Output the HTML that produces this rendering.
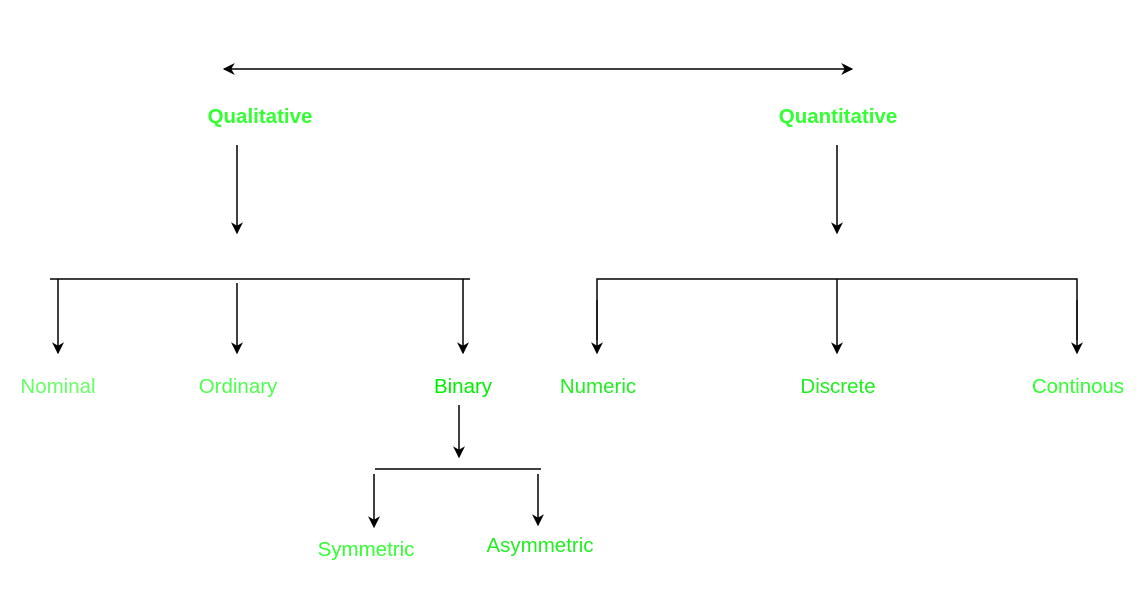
<!DOCTYPE html>
<html><head><style>
html,body{margin:0;padding:0;background:#fff;width:1144px;height:592px;overflow:hidden}
text{font-family:"Liberation Sans",Arial,sans-serif;font-size:20.5px;text-anchor:middle}
</style></head><body>
<svg width="1144" height="592" xmlns="http://www.w3.org/2000/svg">
<defs>
<marker id="a" viewBox="0 0 10 10" refX="9" refY="5" markerWidth="14" markerHeight="12" markerUnits="userSpaceOnUse" orient="auto-start-reverse">
<path d="M0,0 L10,5 L0,10 L3,5 Z" fill="#000"/></marker>
</defs>
<g stroke="#000" stroke-width="1.5" fill="none">
<line x1="224" y1="69" x2="852" y2="69" marker-start="url(#a)" marker-end="url(#a)"/>
<line x1="237" y1="145" x2="237" y2="233" marker-end="url(#a)"/>
<line x1="837" y1="145" x2="837" y2="233" marker-end="url(#a)"/>
<line x1="50" y1="279" x2="470" y2="279"/>
<line x1="58" y1="279" x2="58" y2="353" marker-end="url(#a)"/>
<line x1="237" y1="283" x2="237" y2="353" marker-end="url(#a)"/>
<line x1="463" y1="279" x2="463" y2="353" marker-end="url(#a)"/>
<polyline points="597,340 597,279 1077,279 1077,340"/>
<line x1="597" y1="300" x2="597" y2="353" marker-end="url(#a)"/>
<line x1="1077" y1="300" x2="1077" y2="353" marker-end="url(#a)"/>
<line x1="837" y1="279" x2="837" y2="353" marker-end="url(#a)"/>
<line x1="459" y1="405" x2="459" y2="457" marker-end="url(#a)"/>
<line x1="375" y1="469" x2="541" y2="469"/>
<line x1="374" y1="474" x2="374" y2="527" marker-end="url(#a)"/>
<line x1="538" y1="474" x2="538" y2="525" marker-end="url(#a)"/>
</g>
<text x="260" y="123" fill="#33ff33" style="font-weight:bold;font-size:20.5px">Qualitative</text>
<text x="838" y="123" fill="#33ff33" style="font-weight:bold;font-size:20.5px">Quantitative</text>
<text x="58" y="393" fill="#66ff66">Nominal</text>
<text x="238" y="393" fill="#4dff4d">Ordinary</text>
<text x="463" y="393" fill="#00ee00">Binary</text>
<text x="598" y="393" fill="#22ee22">Numeric</text>
<text x="838" y="393" fill="#22ee22">Discrete</text>
<text x="1078" y="393" fill="#33ff33">Continous</text>
<text x="366" y="556" fill="#33ff33">Symmetric</text>
<text x="540" y="552" fill="#22ee22">Asymmetric</text>
</svg>
</body></html>
